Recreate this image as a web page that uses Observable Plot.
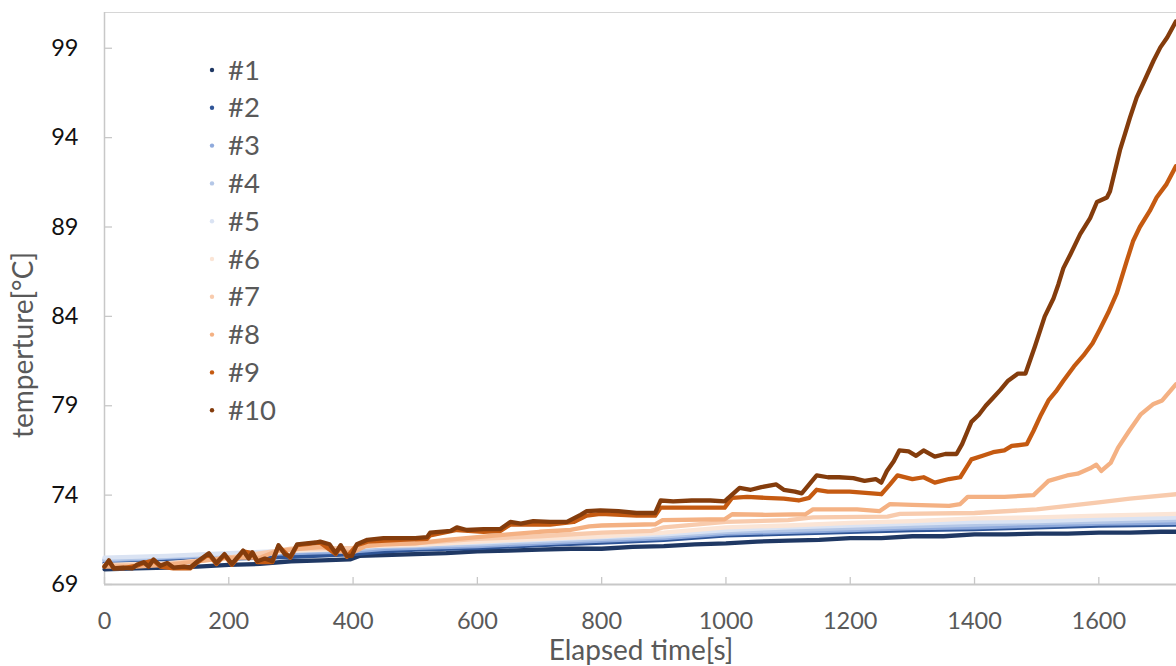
<!DOCTYPE html>
<html><head><meta charset="utf-8">
<script src="https://cdn.jsdelivr.net/npm/d3@7"></script>
<script src="https://cdn.jsdelivr.net/npm/@observablehq/plot@0.6"></script>
<style>
body{margin:0;background:#fff;font-family:Lato,sans-serif}
#wrap{position:relative;width:1176px;height:666px;overflow:hidden}
</style></head><body><div id="wrap"></div>
<script>
const seriesNames = ["#1","#2","#3","#4","#5","#6","#7","#8","#9","#10"];
const seriesColors = ["#1f3864","#2f5597","#8faadc","#b4c7e7","#dae3f3","#fbe5d6","#f8cbad","#f4b183","#c55a11","#843c0c"];
const xTicks = [0,200,400,600,800,1000,1200,1400,1600];
const yTicks = [69,74,79,84,89,94,99];
const xLabel = "Elapsed time[s]";
const yLabel = "temperture[°C]";

// [elapsed time s, temperature °C]
const s1 = [[0,69.85],[50,69.9],[100,69.95],[150,70.0],[200,70.1],[250,70.15],[300,70.3],[350,70.35],[395,70.4],[410,70.6],[450,70.65],[500,70.7],[550,70.75],[600,70.85],[650,70.9],[700,70.95],[750,71.0],[800,71.0],[850,71.1],[900,71.15],[950,71.25],[1000,71.3],[1050,71.4],[1100,71.45],[1150,71.5],[1200,71.6],[1250,71.6],[1300,71.7],[1350,71.7],[1400,71.8],[1450,71.8],[1500,71.85],[1550,71.85],[1600,71.9],[1650,71.9],[1700,71.95],[1725,71.95]];
const s2 = [[0,70.2],[100,70.3],[200,70.45],[300,70.55],[400,70.7],[450,70.85],[500,70.95],[600,71.05],[700,71.2],[800,71.35],[900,71.5],[1000,71.75],[1100,71.85],[1200,71.95],[1300,72.05],[1400,72.1],[1500,72.2],[1600,72.3],[1725,72.35]];
const s3 = [[0,70.35],[100,70.5],[200,70.65],[300,70.75],[400,70.85],[450,71.0],[500,71.05],[600,71.15],[700,71.3],[800,71.45],[900,71.6],[1000,71.85],[1100,71.95],[1200,72.05],[1300,72.15],[1400,72.2],[1500,72.3],[1600,72.4],[1725,72.45]];
const s4 = [[0,70.4],[100,70.55],[200,70.7],[300,70.85],[400,70.95],[450,71.1],[500,71.15],[600,71.25],[700,71.4],[800,71.55],[900,71.7],[1000,71.95],[1100,72.05],[1200,72.15],[1300,72.25],[1400,72.35],[1500,72.45],[1600,72.5],[1725,72.6]];
const s5 = [[0,70.5],[100,70.6],[200,70.75],[300,70.9],[400,71.05],[450,71.2],[500,71.25],[600,71.35],[700,71.5],[800,71.65],[900,71.8],[1000,72.05],[1100,72.2],[1200,72.3],[1300,72.4],[1400,72.5],[1500,72.55],[1600,72.65],[1725,72.75]];
const s6 = [[0,70.1],[100,70.2],[200,70.45],[280,70.8],[300,70.9],[400,71.0],[420,71.15],[500,71.2],[600,71.4],[700,71.55],[800,71.7],[900,71.9],[1000,72.2],[1100,72.3],[1200,72.45],[1300,72.55],[1400,72.7],[1500,72.75],[1600,72.85],[1725,72.95]];
const s7 = [[0,70.05],[100,70.15],[200,70.5],[280,70.9],[300,71.0],[400,71.05],[420,71.2],[500,71.3],[600,71.55],[700,71.7],[800,71.9],[880,72.0],[900,72.2],[1000,72.5],[1100,72.6],[1140,72.75],[1260,72.8],[1280,72.95],[1400,73.0],[1500,73.2],[1600,73.6],[1650,73.8],[1725,74.05]];
const s8 = [[0,70.0],[50,70.0],[100,70.1],[150,70.3],[200,70.5],[250,70.5],[280,70.9],[300,70.95],[350,71.1],[380,70.85],[400,70.8],[420,71.15],[450,71.25],[500,71.3],[550,71.5],[600,71.65],[650,71.8],[700,71.95],[750,72.05],[780,72.25],[800,72.3],[886,72.37],[898,72.6],[998,72.65],[1010,72.93],[1063,72.9],[1128,72.93],[1140,73.2],[1211,73.2],[1247,73.1],[1264,73.5],[1300,73.45],[1359,73.4],[1377,73.5],[1389,73.9],[1448,73.9],[1495,74.0],[1507,74.4],[1519,74.8],[1549,75.1],[1566,75.2],[1586,75.5],[1596,75.7],[1604,75.35],[1619,75.8],[1631,76.66],[1649,77.6],[1667,78.5],[1688,79.1],[1702,79.3],[1724,80.2]];
const s9 = [[0,70.0],[7,70.3],[15,69.9],[30,69.9],[52,70.05],[63,70.2],[79,70.35],[90,70.0],[111,69.9],[138,69.9],[150,70.25],[168,70.7],[180,70.15],[193,70.65],[205,70.1],[223,70.85],[238,70.75],[246,70.25],[270,70.25],[280,71.15],[299,70.5],[310,71.2],[347,71.35],[372,70.7],[380,71.15],[390,70.55],[406,71.2],[423,71.4],[476,71.5],[519,71.55],[524,71.75],[567,72.05],[610,71.95],[637,72.0],[653,72.35],[717,72.35],[755,72.5],[776,72.85],[798,72.95],[856,72.85],[886,72.85],[895,73.3],[945,73.3],[998,73.3],[1010,73.85],[1034,73.9],[1063,73.85],[1093,73.8],[1117,73.7],[1134,73.85],[1146,74.3],[1164,74.2],[1199,74.2],[1235,74.1],[1250,74.05],[1264,74.6],[1276,75.1],[1300,74.9],[1318,75.0],[1336,74.7],[1359,74.9],[1377,75.0],[1386,75.5],[1395,76.0],[1413,76.2],[1430,76.4],[1448,76.5],[1460,76.75],[1484,76.85],[1495,77.6],[1507,78.5],[1519,79.3],[1531,79.8],[1543,80.4],[1560,81.2],[1575,81.8],[1590,82.5],[1602,83.3],[1615,84.2],[1629,85.3],[1645,87.1],[1655,88.2],[1666,89.0],[1682,89.9],[1693,90.65],[1709,91.4],[1724,92.4]];
const s10 = [[0,70.0],[7,70.35],[15,69.9],[30,69.95],[45,69.9],[52,70.1],[63,70.25],[71,70.0],[79,70.4],[90,70.05],[101,70.2],[111,69.95],[128,70.0],[138,69.95],[150,70.3],[168,70.75],[180,70.2],[193,70.7],[205,70.15],[223,70.9],[232,70.45],[238,70.8],[246,70.3],[258,70.45],[270,70.3],[280,71.2],[290,70.7],[299,70.55],[310,71.25],[325,71.3],[340,71.35],[347,71.4],[362,71.25],[372,70.75],[380,71.2],[390,70.6],[398,70.6],[406,71.25],[423,71.5],[449,71.6],[476,71.6],[500,71.6],[519,71.65],[524,71.9],[557,72.0],[567,72.2],[583,72.05],[610,72.1],[637,72.1],[653,72.5],[670,72.4],[690,72.55],[717,72.5],[744,72.5],[755,72.7],[766,72.9],[776,73.1],[798,73.15],[827,73.1],[856,73.0],[886,73.0],[895,73.7],[915,73.65],[945,73.7],[975,73.7],[998,73.65],[1004,73.85],[1022,74.4],[1040,74.3],[1057,74.45],[1081,74.6],[1093,74.3],[1111,74.2],[1122,74.1],[1134,74.6],[1146,75.1],[1164,75.0],[1182,75.0],[1205,74.95],[1223,74.8],[1241,74.9],[1250,74.7],[1259,75.35],[1270,75.9],[1279,76.5],[1294,76.45],[1306,76.2],[1318,76.5],[1336,76.15],[1353,76.3],[1371,76.3],[1380,76.85],[1389,77.6],[1395,78.1],[1407,78.5],[1418,79.0],[1430,79.45],[1442,79.9],[1454,80.4],[1470,80.8],[1482,80.8],[1497,82.3],[1513,84.0],[1527,85.0],[1535,85.8],[1543,86.7],[1554,87.45],[1570,88.6],[1586,89.5],[1597,90.4],[1613,90.65],[1618,91.0],[1626,92.15],[1634,93.3],[1642,94.2],[1650,95.1],[1661,96.25],[1671,97.0],[1688,98.3],[1699,99.05],[1710,99.6],[1724,100.5]];

const allSeries = [s1,s2,s3,s4,s5,s6,s7,s8,s9,s10];
const data = allSeries.flatMap((s,i)=>s.map(([t,v])=>({t,v,name:seriesNames[i]})));

const W=1176,H=666,mL=104,mT=12,mB=82,mR=0;
const axisCol="#c8c8c8";
const chart = Plot.plot({
  width:W,height:H,marginLeft:mL,marginTop:mT,marginBottom:mB,marginRight:mR,
  style:{fontFamily:"Lato, sans-serif",background:"#fff"},
  x:{domain:[0,1725]},
  y:{domain:[69,101]},
  color:{domain:seriesNames,range:seriesColors},
  marks:[
    Plot.ruleY([101],{stroke:"#d6d6d6",strokeWidth:1.2}),
    Plot.ruleX([0],{stroke:axisCol,strokeWidth:1.5}),
    Plot.ruleY([69],{stroke:axisCol,strokeWidth:1.8}),
    Plot.tickY(yTicks,{y:d=>d,insetRight:W-mL-mR-8,stroke:axisCol,strokeWidth:1.3}),
    Plot.tickX(xTicks,{x:d=>d,insetTop:H-mT-mB-7,stroke:axisCol,strokeWidth:1.3}),
    Plot.line(data,{x:"t",y:"v",z:"name",stroke:"name",strokeWidth:4.3,strokeLinejoin:"round",strokeLinecap:"round"}),
    Plot.axisX({ticks:xTicks,tickFormat:d=>String(d),tickSize:0,tickPadding:28,fontSize:23.5,color:"#595959",label:null}),
    Plot.axisY({ticks:yTicks,tickFormat:d=>String(d),tickSize:0,tickPadding:26,fontSize:23.5,color:"#111",label:null})
  ]
});
document.getElementById("wrap").appendChild(chart);

const svg = d3.select(chart);
svg.append("text").attr("x",641).attr("y",660).attr("text-anchor","middle")
  .attr("font-size",28).attr("fill","#595959").attr("font-family","Lato, sans-serif").text(xLabel);
svg.append("text").attr("transform","translate(33,345) rotate(-90)").attr("text-anchor","middle")
  .attr("font-size",28).attr("fill","#595959").attr("font-family","Lato, sans-serif").text(yLabel);

const lg = svg.append("g").attr("font-family","Lato, sans-serif").attr("text-anchor","start");
seriesNames.forEach((n,i)=>{
  const cy = 70 + i*37.8;
  lg.append("circle").attr("cx",212).attr("cy",cy).attr("r",2.2).attr("fill",seriesColors[i]);
  lg.append("text").attr("x",228).attr("y",cy+9.5).attr("font-size",27.5).attr("fill","#595959").text(n);
});
</script></body></html>
